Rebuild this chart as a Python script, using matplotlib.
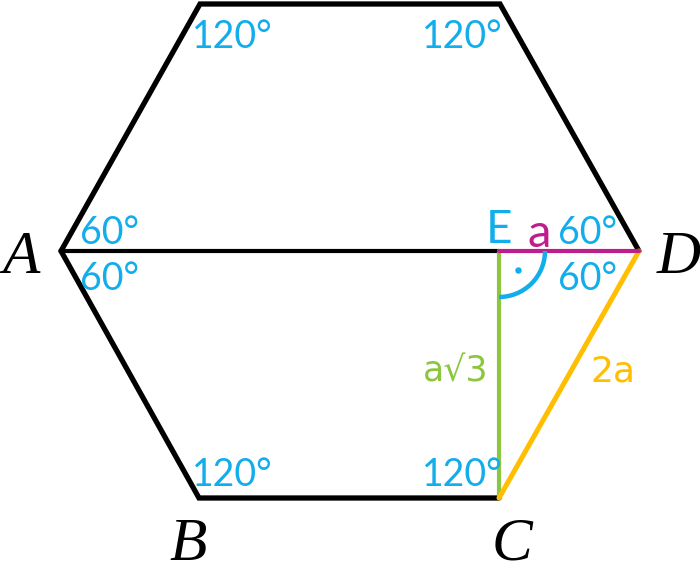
import matplotlib
matplotlib.use("Agg")
import matplotlib.pyplot as plt
from matplotlib.patches import Arc

W, H = 700, 563
BLACK = "#000000"; BLUE = "#12ADEB"; MAGENTA = "#BE1E8C"; GREEN = "#8CC63F"; ORANGE = "#FFBF00"

A = (61, 251); B = (199, 498); C = (499, 498); D = (639, 251)
T1 = (200, 4); T2 = (500, 4); E = (499, 251)

outer_path = [A, T1, T2, D]
lower_path = [A, B, C]
point_labels = ["A", "B", "C", "D"]
point_pos = [(21, 273), (188, 560), (512, 560), (679, 273)]
angle_labels = ["120°", "120°", "120°", "120°", "60°", "60°", "60°", "60°"]
angle_pos = [(232, 48), (462, 48), (232, 486), (462, 486), (110, 244), (110, 290), (587, 244), (587, 290)]

fig = plt.figure(figsize=(7.0, 5.63), dpi=100)
ax = fig.add_axes([0, 0, 1, 1])
ax.set_xlim(0, W); ax.set_ylim(H, 0); ax.axis("off")

def seg(pts, color, lw=3.8, z=2):
    ax.plot([p[0] for p in pts], [p[1] for p in pts], color=color, lw=lw,
            solid_capstyle="round", solid_joinstyle="miter", zorder=z)

seg(outer_path, BLACK)
seg(lower_path, BLACK)
seg([A, E], BLACK, lw=3.0)
seg([E, C], GREEN, lw=3.0, z=3)
seg([C, D], ORANGE, lw=3.6, z=3)
seg([E, D], MAGENTA, lw=3.0, z=4)

ax.add_patch(Arc(E, 92, 92, theta1=0, theta2=90, color=BLUE, lw=3.2, zorder=5))
ax.plot([518], [270], "o", color=BLUE, ms=3.6, zorder=5)

for s, (x, y) in zip(point_labels, point_pos):
    ax.text(x, y, s, family="Liberation Serif", style="italic", fontsize=44,
            ha="center", va="baseline", color=BLACK)
for s, (x, y) in zip(angle_labels, angle_pos):
    ax.text(x, y, s, family="Lato", fontsize=27, ha="center", va="baseline", color=BLUE)

ax.text(499, 243, "E", family="Lato", fontsize=33, ha="center", va="baseline", color=BLUE)
ax.text(539, 247, "a", family="Lato", fontsize=34, ha="center", va="baseline", color=MAGENTA)
ax.text(456, 381, "a√3", family="DejaVu Sans", fontsize=25, ha="center", va="baseline", color=GREEN)
ax.text(613, 381, "2a", family="DejaVu Sans", fontsize=26, ha="center", va="baseline", color=ORANGE)

fig.savefig("out.png", dpi=100)
